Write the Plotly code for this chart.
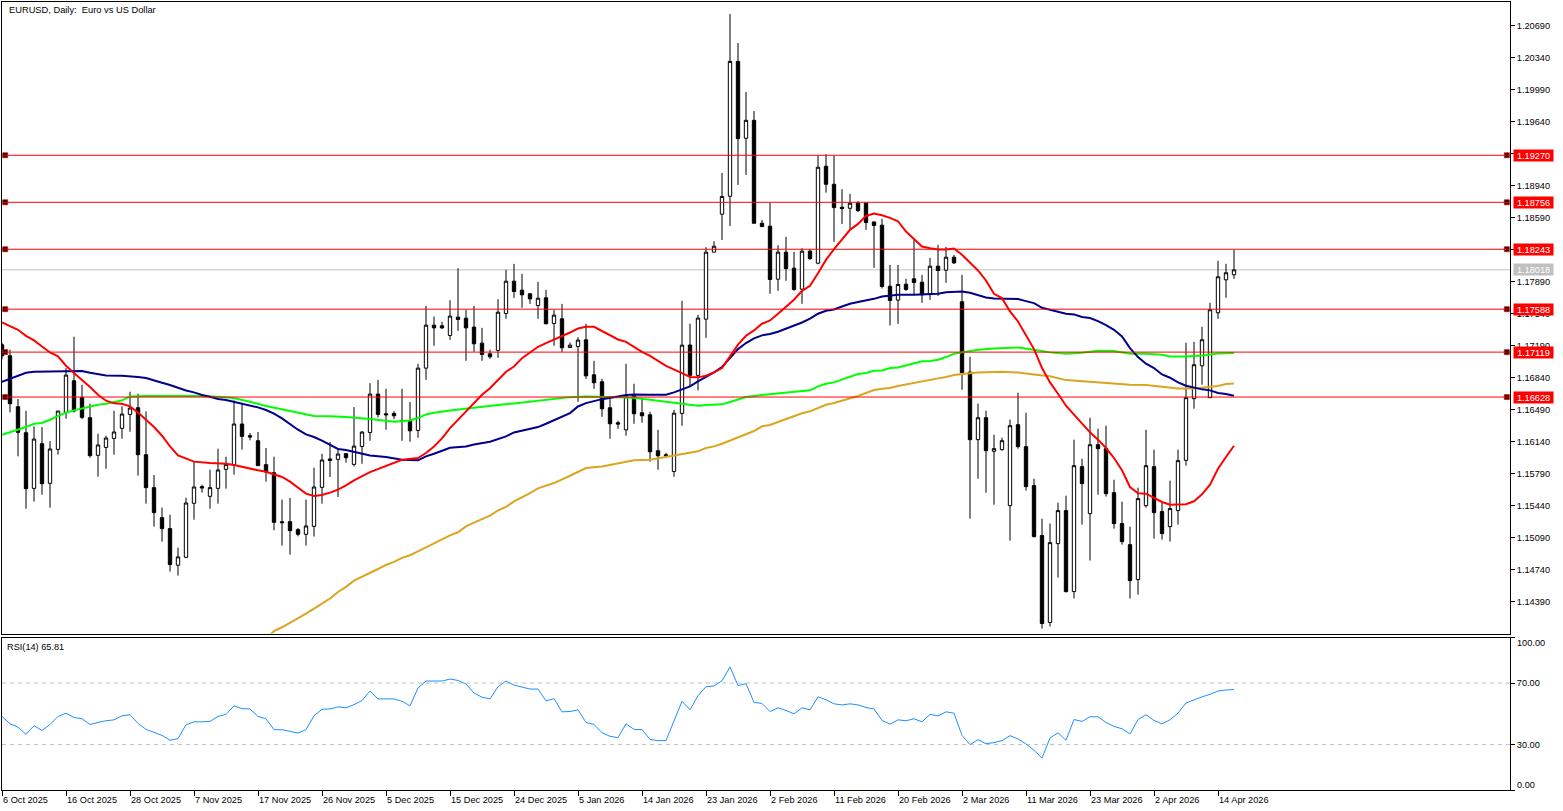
import plotly.graph_objects as go

opens = [1.17199,1.17079,1.16522,1.16238,1.15630,1.16118,1.15685,1.16056,1.16460,1.16806,
1.16624,1.16402,1.15991,1.16078,1.16176,1.16286,1.16438,1.16511,1.15998,1.15638,
1.15310,1.15190,1.14790,1.14877,1.15467,1.15649,1.15543,1.15630,1.15838,1.15889,
1.16333,1.16205,1.16151,1.15889,1.15801,1.15266,1.15266,1.15179,1.15128,1.15215,
1.15641,1.15951,1.15947,1.16009,1.15892,1.16088,1.16241,1.16660,1.16445,1.16449,
1.16372,1.16365,1.16263,1.16944,1.17413,1.17406,1.17301,1.17501,1.17490,1.17392,
1.17217,1.17100,1.17137,1.17541,1.17894,1.17796,1.17756,1.17628,1.17712,1.17432,
1.17483,1.17169,1.17180,1.17253,1.16871,1.16795,1.16511,1.16347,1.16270,1.16642,
1.16456,1.16434,1.16041,1.15997,1.15815,1.16449,1.17196,1.16865,1.17479,1.18211,
1.18626,1.18822,1.20296,1.19456,1.19652,1.18527,1.18495,1.17916,1.18211,1.18036,
1.17807,1.18222,1.18091,1.19150,1.18953,1.18702,1.18691,1.18749,1.18749,1.18542,
1.18506,1.17839,1.17687,1.17861,1.17920,1.17883,1.17748,1.18058,1.18014,1.18156,
1.17669,1.16901,1.16162,1.16402,1.16035,1.16053,1.15441,1.16326,1.16086,1.15660,
1.15114,1.14164,1.15026,1.15387,1.14502,1.15867,1.15354,1.16107,1.16064,1.15583,
1.15245,1.15015,1.14633,1.15441,1.15867,1.15376,1.15212,1.15387,1.15936,1.16610,
1.16970,1.16621,1.17549,1.17909,1.17964]
closes = [1.17079,1.16555,1.16242,1.15627,1.16169,1.15681,1.16060,1.16475,1.16868,1.16475,
1.16406,1.15987,1.16104,1.16180,1.16246,1.16442,1.16508,1.15998,1.15638,1.15365,
1.15190,1.14797,1.14881,1.15470,1.15645,1.15634,1.15638,1.15831,1.15892,1.16333,
1.16198,1.16191,1.15878,1.15809,1.15259,1.15255,1.15168,1.15128,1.15219,1.15645,
1.15940,1.15936,1.16005,1.15965,1.16092,1.16245,1.16660,1.16438,1.16434,1.16423,
1.16361,1.16259,1.16944,1.17413,1.17384,1.17384,1.17512,1.17475,1.17384,1.17210,
1.17093,1.17068,1.17555,1.17894,1.17781,1.17745,1.17701,1.17708,1.17428,1.17523,
1.17166,1.17195,1.17250,1.16860,1.16784,1.16500,1.16336,1.16332,1.16631,1.16445,
1.16423,1.16030,1.15986,1.15986,1.16452,1.17195,1.16865,1.17491,1.18211,1.18276,
1.18819,1.20296,1.19452,1.19652,1.18527,1.18491,1.17912,1.18211,1.18032,1.17803,
1.18222,1.18142,1.19139,1.18953,1.18698,1.18688,1.18746,1.18666,1.18535,1.18502,
1.17836,1.17683,1.17858,1.17803,1.17879,1.17745,1.18058,1.18011,1.18156,1.18094,
1.16894,1.16162,1.16402,1.16042,1.16064,1.16151,1.16315,1.16086,1.15649,1.15103,
1.14153,1.15037,1.15387,1.14502,1.15878,1.15682,1.16107,1.16064,1.15572,1.15245,
1.15048,1.14622,1.15518,1.15878,1.15365,1.15136,1.15409,1.15933,1.16621,1.16981,
1.17254,1.17582,1.17942,1.17986,1.18018]
highs = [1.17220,1.17145,1.16606,1.16478,1.16307,1.16300,1.16147,1.16475,1.16944,1.17287,
1.16762,1.16555,1.16227,1.16205,1.16478,1.16526,1.16686,1.16664,1.16471,1.15776,
1.15419,1.15343,1.14982,1.15528,1.15922,1.15670,1.15834,1.16064,1.15976,1.16591,
1.16555,1.16235,1.16246,1.16071,1.15976,1.15507,1.15525,1.15197,1.15507,1.15856,
1.16009,1.16136,1.16071,1.16016,1.16518,1.16256,1.16780,1.16816,1.16718,1.16474,
1.16718,1.16573,1.16991,1.17624,1.17508,1.17450,1.17686,1.18036,1.17581,1.17624,
1.17384,1.17144,1.17697,1.18018,1.18083,1.17974,1.17766,1.17887,1.17799,1.17581,
1.17646,1.17224,1.17282,1.17428,1.17024,1.16827,1.16616,1.16369,1.16991,1.16773,
1.16609,1.16467,1.16270,1.16019,1.16489,1.17679,1.17429,1.17527,1.18265,1.18331,
1.19077,1.20813,1.20497,1.19962,1.19754,1.18564,1.18753,1.18287,1.18378,1.18214,
1.18254,1.18247,1.19270,1.19281,1.19266,1.18899,1.18848,1.18768,1.18753,1.18542,
1.18575,1.18072,1.18072,1.17920,1.18345,1.17963,1.18149,1.18291,1.18269,1.18182,
1.17964,1.17068,1.16555,1.16479,1.16217,1.16184,1.16380,1.16675,1.16457,1.15736,
1.15299,1.15245,1.15474,1.15550,1.16162,1.15955,1.16402,1.16282,1.16315,1.15725,
1.15485,1.15212,1.15638,1.16271,1.16053,1.15474,1.15714,1.16053,1.17221,1.17232,
1.17396,1.17658,1.18117,1.18084,1.18237]
lows = [1.17040,1.16460,1.15980,1.15408,1.15485,1.15561,1.15419,1.15998,1.16391,1.16460,
1.16387,1.15965,1.15758,1.15845,1.15998,1.16173,1.16249,1.15769,1.15463,1.15212,
1.15048,1.14720,1.14677,1.14866,1.15288,1.15583,1.15408,1.15463,1.15627,1.15780,
1.16053,1.16155,1.15878,1.15703,1.15172,1.15004,1.14906,1.15106,1.15004,1.15103,
1.15463,1.15754,1.15536,1.15911,1.15870,1.15899,1.16150,1.16405,1.16270,1.16387,
1.16150,1.16139,1.16183,1.16816,1.17188,1.17370,1.17253,1.17351,1.17024,1.17122,
1.17024,1.17046,1.17057,1.17483,1.17712,1.17603,1.17646,1.17483,1.17428,1.17188,
1.17122,1.17169,1.16576,1.16827,1.16718,1.16412,1.16172,1.16281,1.16205,1.16336,
1.16347,1.15921,1.15834,1.15961,1.15757,1.16314,1.16737,1.16701,1.17275,1.18211,
1.18345,1.18498,1.18946,1.19055,1.18527,1.18484,1.17756,1.17788,1.17898,1.17788,
1.17647,1.18127,1.18080,1.18862,1.18324,1.18520,1.18455,1.18651,1.18455,1.18040,
1.17814,1.17410,1.17428,1.17788,1.17745,1.17657,1.17690,1.17734,1.17876,1.18083,
1.16708,1.15299,1.15736,1.15583,1.15452,1.16042,1.15059,1.16064,1.15605,1.15092,
1.14098,1.14120,1.14655,1.14491,1.14426,1.15234,1.14841,1.15561,1.15540,1.15190,
1.15015,1.14426,1.14469,1.15419,1.15081,1.15070,1.15048,1.15234,1.15878,1.16501,
1.16763,1.16621,1.17483,1.17713,1.17920]

red_x = [0,2,3,4,5,6,7,8,9,10,11,12,13,14,15,16,17,18,19,20,21,22,23,24,26,28,29,30,32,33,34,35,36,37,38,39,40,41,42,43,44,46,48,50,52,53,54,55,56,57,58,59,60,61,62,63,64,65,66,67,68,69,70,71,72,73,74,75,76,77,78,79,80,81,82,83,85,86,87,88,89,90,91,92,93,94,95,96,97,98,99,100,101,102,103,104,105,106,107,108,109,110,111,112,113,114,115,116,117,118,119,120,121,122,123,124,125,126,127,128,129,130,131,132,133,134,135,136,137,138,139,140,141,142,143,144,145,146,147,148,149,150,151,152,153,154]
red_ma = [1.17443,1.17363,1.17297,1.17247,1.17181,1.17115,1.17072,1.16970,1.16890,1.16817,1.16737,1.16653,1.16588,1.16559,1.16555,1.16526,1.16460,1.16380,1.16300,1.16205,1.16089,1.15991,1.15954,1.15922,1.15907,1.15900,1.15885,1.15863,1.15827,1.15812,1.15787,1.15754,1.15703,1.15638,1.15572,1.15547,1.15558,1.15583,1.15616,1.15663,1.15717,1.15808,1.15877,1.15943,1.15961,1.16016,1.16088,1.16176,1.16289,1.16380,1.16481,1.16569,1.16653,1.16725,1.16809,1.16904,1.16962,1.17053,1.17115,1.17177,1.17217,1.17253,1.17290,1.17333,1.17377,1.17395,1.17395,1.17351,1.17308,1.17257,1.17231,1.17173,1.17122,1.17078,1.17028,1.16969,1.16890,1.16847,1.16843,1.16861,1.16897,1.16945,1.17072,1.17200,1.17298,1.17356,1.17429,1.17465,1.17538,1.17618,1.17691,1.17788,1.17843,1.17981,1.18127,1.18244,1.18345,1.18455,1.18520,1.18607,1.18633,1.18615,1.18586,1.18549,1.18436,1.18353,1.18273,1.18254,1.18240,1.18240,1.18251,1.18182,1.18098,1.18011,1.17902,1.17756,1.17709,1.17563,1.17454,1.17309,1.17152,1.16945,1.16788,1.16664,1.16533,1.16435,1.16333,1.16242,1.16162,1.16071,1.15962,1.15827,1.15645,1.15576,1.15572,1.15525,1.15481,1.15452,1.15452,1.15456,1.15489,1.15565,1.15671,1.15845,1.15973,1.16096]

blue_x = [0,2,3,4,6,8,9,10,11,12,13,15,16,17,18,19,20,21,22,23,24,25,26,27,28,29,30,31,32,33,34,35,36,37,38,39,40,41,42,43,44,46,48,49,50,52,53,54,55,56,58,59,61,62,63,64,65,67,68,69,71,72,73,75,76,77,78,79,81,83,84,85,86,87,88,89,90,91,92,93,94,95,96,97,98,99,100,101,102,103,104,105,106,107,108,109,110,111,112,114,116,117,118,120,121,122,123,124,126,127,128,129,130,131,132,133,134,135,136,137,138,139,140,141,142,143,144,145,146,147,148,149,150,151,152,153,154]
blue_ma = [1.16795,1.16861,1.16893,1.16904,1.16908,1.16908,1.16915,1.16912,1.16893,1.16875,1.16864,1.16861,1.16857,1.16846,1.16835,1.16806,1.16784,1.16759,1.16726,1.16700,1.16679,1.16650,1.16631,1.16606,1.16595,1.16577,1.16555,1.16540,1.16515,1.16486,1.16446,1.16395,1.16329,1.16271,1.16220,1.16191,1.16151,1.16107,1.16060,1.16049,1.16030,1.15990,1.15972,1.15958,1.15943,1.15936,1.15979,1.16008,1.16041,1.16074,1.16088,1.16110,1.16139,1.16168,1.16198,1.16241,1.16263,1.16300,1.16336,1.16372,1.16452,1.16525,1.16562,1.16605,1.16623,1.16634,1.16649,1.16656,1.16653,1.16653,1.16679,1.16708,1.16745,1.16799,1.16846,1.16897,1.16956,1.17054,1.17152,1.17218,1.17269,1.17302,1.17316,1.17342,1.17374,1.17407,1.17443,1.17484,1.17538,1.17571,1.17585,1.17618,1.17647,1.17666,1.17683,1.17701,1.17727,1.17737,1.17745,1.17745,1.17748,1.17756,1.17774,1.17781,1.17767,1.17742,1.17716,1.17705,1.17705,1.17698,1.17676,1.17654,1.17603,1.17582,1.17567,1.17538,1.17531,1.17502,1.17491,1.17458,1.17414,1.17363,1.17290,1.17163,1.17065,1.16992,1.16945,1.16875,1.16839,1.16788,1.16752,1.16730,1.16712,1.16701,1.16672,1.16661,1.16642]

green_x = [0,1,2,3,4,5,6,7,8,9,10,11,12,13,14,15,16,18,24,26,27,29,30,31,32,33,34,35,36,37,38,39,41,43,46,48,49,51,52,53,54,56,58,60,62,64,66,68,71,73,75,77,79,81,83,85,86,87,88,90,91,92,93,95,97,99,101,102,103,104,105,106,107,108,109,110,111,112,113,114,115,116,117,118,119,120,122,124,127,129,131,133,135,137,139,141,143,145,146,148,150,152,154]
green_ma = [1.16216,1.16242,1.16271,1.16300,1.16336,1.16344,1.16380,1.16417,1.16460,1.16482,1.16504,1.16526,1.16544,1.16555,1.16569,1.16591,1.16635,1.16639,1.16639,1.16639,1.16631,1.16617,1.16598,1.16577,1.16555,1.16529,1.16511,1.16486,1.16475,1.16457,1.16435,1.16420,1.16417,1.16410,1.16387,1.16365,1.16358,1.16372,1.16398,1.16438,1.16456,1.16481,1.16503,1.16518,1.16540,1.16558,1.16576,1.16598,1.16627,1.16634,1.16634,1.16627,1.16620,1.16598,1.16572,1.16552,1.16537,1.16533,1.16541,1.16548,1.16574,1.16599,1.16628,1.16650,1.16668,1.16683,1.16701,1.16745,1.16774,1.16788,1.16817,1.16854,1.16879,1.16890,1.16916,1.16919,1.16945,1.16952,1.16974,1.16996,1.17018,1.17021,1.17036,1.17065,1.17101,1.17116,1.17145,1.17159,1.17170,1.17145,1.17116,1.17101,1.17112,1.17134,1.17130,1.17101,1.17101,1.17090,1.17072,1.17072,1.17083,1.17105,1.17108]

gold_x = [33,34,35,36,37,38,39,40,41,42,43,44,45,46,47,48,49,50,51,52,53,54,55,56,57,58,59,60,61,62,63,64,65,66,67,69,71,73,75,77,79,81,83,85,86,87,88,89,90,91,92,93,94,95,96,97,98,99,100,101,102,103,104,105,106,107,108,109,110,111,112,113,114,115,116,117,118,119,120,122,125,127,129,131,133,135,137,139,141,143,145,147,149,151,152,153,154]
gold_ma = [1.13990,1.14069,1.14112,1.14160,1.14214,1.14262,1.14316,1.14371,1.14426,1.14498,1.14553,1.14622,1.14662,1.14706,1.14749,1.14793,1.14826,1.14870,1.14899,1.14942,1.14986,1.15033,1.15077,1.15117,1.15150,1.15215,1.15255,1.15292,1.15332,1.15390,1.15427,1.15488,1.15532,1.15579,1.15630,1.15688,1.15768,1.15852,1.15870,1.15899,1.15936,1.15943,1.15972,1.16006,1.16017,1.16035,1.16071,1.16089,1.16118,1.16151,1.16191,1.16220,1.16257,1.16308,1.16322,1.16355,1.16388,1.16417,1.16450,1.16472,1.16508,1.16544,1.16563,1.16588,1.16617,1.16639,1.16672,1.16705,1.16719,1.16726,1.16748,1.16766,1.16781,1.16803,1.16821,1.16832,1.16846,1.16868,1.16879,1.16897,1.16904,1.16897,1.16875,1.16854,1.16813,1.16799,1.16788,1.16770,1.16763,1.16759,1.16737,1.16722,1.16722,1.16737,1.16748,1.16770,1.16777]

rsi = [48.3,43.5,41.4,36.7,42.3,39.2,43.1,48.3,50.4,47.6,46.8,43.1,44.4,45.5,46.1,48.7,49.4,43.8,39.9,38.2,
36.0,32.8,33.9,42.9,44.8,44.8,45.1,48.3,49.6,55.2,53.4,53.2,48.3,46.8,39.7,39.7,38.4,37.5,39.7,48.7,
53.0,53.2,54.5,53.9,56.0,58.6,64.8,59.7,59.7,59.7,58.2,55.2,66.8,71.3,71.3,71.3,72.6,71.7,69.4,63.5,
60.8,59.7,67.6,71.3,68.7,67.2,66.1,66.1,58.4,59.9,51.3,51.5,52.6,44.4,43.1,37.7,35.4,34.5,
43.5,39.9,39.7,33.4,32.6,32.6,45.7,58.2,52.6,61.8,67.6,68.1,71.5,80.5,68.3,69.6,57.5,56.7,51.5,53.9,52.2,50.0,
53.9,52.6,61.0,59.2,56.5,55.8,56.5,55.8,54.1,53.2,45.7,43.3,46.1,45.5,46.8,44.8,49.6,48.7,51.3,50.4,
36.0,30.0,33.2,30.6,31.3,32.6,35.8,33.7,30.4,26.3,21.2,34.3,37.7,32.8,46.3,45.1,48.1,48.1,44.4,41.8,
40.3,36.9,46.3,49.4,45.7,43.5,46.1,50.4,57.1,59.2,61.0,62.7,64.8,65.5,65.81]

levels = [1.19270, 1.18756, 1.18243, 1.17588, 1.17119, 1.16628]
level_labels = ["1.19270", "1.18756", "1.18243", "1.17588", "1.17119", "1.16628"]
last_price = 1.18018
last_label = "1.18018"

price_ticks = [1.20690,1.20340,1.19990,1.19640,1.19290,1.18940,1.18590,1.18240,1.17890,1.17540,
               1.17190,1.16840,1.16490,1.16140,1.15790,1.15440,1.15090,1.14740,1.14390]
rsi_ticks = [70, 30]
rsi_tick_text = ["70.00", "30.00"]
date_pos = list(range(0, 153, 8))
date_labels = ["6 Oct 2025","16 Oct 2025","28 Oct 2025","7 Nov 2025","17 Nov 2025","26 Nov 2025",
               "5 Dec 2025","15 Dec 2025","24 Dec 2025","5 Jan 2026","14 Jan 2026","23 Jan 2026",
               "2 Feb 2026","11 Feb 2026","20 Feb 2026","2 Mar 2026","11 Mar 2026","23 Mar 2026",
               "2 Apr 2026","14 Apr 2026"]

FONT = "Liberation Sans"
FS = 9.2
X_MAX = 188.5
xs = list(range(len(opens)))

fig = go.Figure()
fig.add_trace(go.Candlestick(
    x=xs, open=opens, high=highs, low=lows, close=closes, whiskerwidth=0,
    increasing=dict(fillcolor="#FFFFFF", line=dict(color="#000000", width=1)),
    decreasing=dict(fillcolor="#000000", line=dict(color="#000000", width=1)),
    xaxis="x", yaxis="y", showlegend=False, hoverinfo="skip"))

for xv, yv, col in [(gold_x, gold_ma, "#DAA520"), (green_x, green_ma, "#00FF00"),
                    (blue_x, blue_ma, "#00008B"), (red_x, red_ma, "#FF0000")]:
    fig.add_trace(go.Scatter(x=xv, y=yv, mode="lines", line=dict(color=col, width=2),
                             xaxis="x", yaxis="y", showlegend=False, hoverinfo="skip"))

for lv in levels:
    fig.add_trace(go.Scatter(x=[0.4, X_MAX - 0.4], y=[lv, lv], mode="markers",
                             marker=dict(symbol="square", size=5, color="#000000",
                                         line=dict(color="#FF0000", width=0.7)),
                             xaxis="x", yaxis="y", showlegend=False, hoverinfo="skip"))

fig.add_trace(go.Scatter(x=xs, y=rsi, mode="lines", line=dict(color="#1E90FF", width=1),
                         xaxis="x2", yaxis="y2", showlegend=False, hoverinfo="skip"))

shapes = [dict(type="line", xref="paper", x0=0, x1=1, yref="y", y0=last_price, y1=last_price,
               line=dict(color="#C0C0C0", width=1), layer="below")]
for lv in levels:
    shapes.append(dict(type="line", xref="paper", x0=0, x1=1, yref="y", y0=lv, y1=lv,
                       line=dict(color="#FF0000", width=1), layer="above"))
for v in rsi_ticks:
    shapes.append(dict(type="line", xref="paper", x0=0, x1=1, yref="y2", y0=v, y1=v,
                       line=dict(color="#C0C0C0", width=1, dash="4px,4px"), layer="below"))

annotations = [
    dict(text="EURUSD, Daily:  Euro vs US Dollar", xref="paper", yref="paper", x=0, y=1,
         xanchor="left", yanchor="top", xshift=5, yshift=-1, showarrow=False,
         font=dict(family=FONT, size=FS + 0.1, color="#000000")),
    dict(text="RSI(14) 65.81", xref="paper", yref="y2", x=0, y=99.6,
         xanchor="left", yanchor="top", xshift=3, yshift=-2, showarrow=False,
         font=dict(family=FONT, size=FS, color="#000000")),
    dict(text="100.00", xref="paper", yref="y2", x=1, y=99.6, xanchor="left", yanchor="top",
         xshift=5, yshift=2, showarrow=False, font=dict(family=FONT, size=FS, color="#000000")),
    dict(text="0.00", xref="paper", yref="y2", x=1, y=0.5, xanchor="left", yanchor="bottom",
         xshift=5, yshift=-2, showarrow=False, font=dict(family=FONT, size=FS, color="#000000")),
]
for p, t in zip(date_pos, date_labels):
    annotations.append(dict(text=t, xref="x2", yref="paper", x=p, y=0, xanchor="left", yanchor="top",
                            xshift=-1, yshift=-3, showarrow=False,
                            font=dict(family=FONT, size=FS, color="#000000")))
for lv, t in zip(levels, level_labels):
    annotations.append(dict(text=t, xref="paper", yref="y", x=1, y=lv, xanchor="left", yanchor="middle",
                            xshift=3, width=39, height=11, borderpad=0, align="center", showarrow=False,
                            bgcolor="#FF0000", font=dict(family=FONT, size=FS, color="#FFFFFF")))
annotations.append(dict(text=last_label, xref="paper", yref="y", x=1, y=last_price, xanchor="left",
                        yanchor="middle", xshift=3, width=39, height=11, borderpad=0, align="center",
                        showarrow=False, bgcolor="#C0C0C0",
                        font=dict(family=FONT, size=FS, color="#FFFFFF")))

axis_common = dict(showline=True, linecolor="#000000", linewidth=1, mirror=True, showgrid=False, zeroline=False)
fig.update_layout(
    width=1563, height=811, autosize=False,
    margin=dict(l=2, r=53, t=2, b=21, pad=0),
    paper_bgcolor="#FFFFFF", plot_bgcolor="#FFFFFF",
    font=dict(family=FONT, size=FS, color="#000000"),
    boxgap=0.4, showlegend=False, hovermode=False,
    xaxis=dict(domain=[0, 1], anchor="y", range=[0, X_MAX], rangeslider=dict(visible=False),
               showticklabels=False, ticks="", **axis_common),
    yaxis=dict(domain=[0.1985, 1], anchor="x", side="right", range=[1.14043, 1.20945],
               tickmode="array", tickvals=price_ticks, ticktext=[f"{v:.5f}" for v in price_ticks],
               ticks="outside", ticklen=4, tickcolor="#000000", tickwidth=1, **axis_common),
    xaxis2=dict(domain=[0, 1], anchor="y2", range=[0, X_MAX], tickmode="array", tickvals=date_pos,
                showticklabels=False, ticks="outside", ticklen=5, tickcolor="#000000", tickwidth=1, **axis_common),
    yaxis2=dict(domain=[0, 0.1935], anchor="x2", side="right", range=[0.5, 99.6],
                tickmode="array", tickvals=[99.6] + rsi_ticks + [0.5],
                ticktext=[""] + rsi_tick_text + [""],
                ticks="outside", ticklen=4, tickcolor="#000000", tickwidth=1, **axis_common),
    shapes=shapes, annotations=annotations,
)

fig.write_html("out.html", config={"displayModeBar": False},
               post_script="document.body.style.margin='0';document.body.style.overflow='hidden';")
